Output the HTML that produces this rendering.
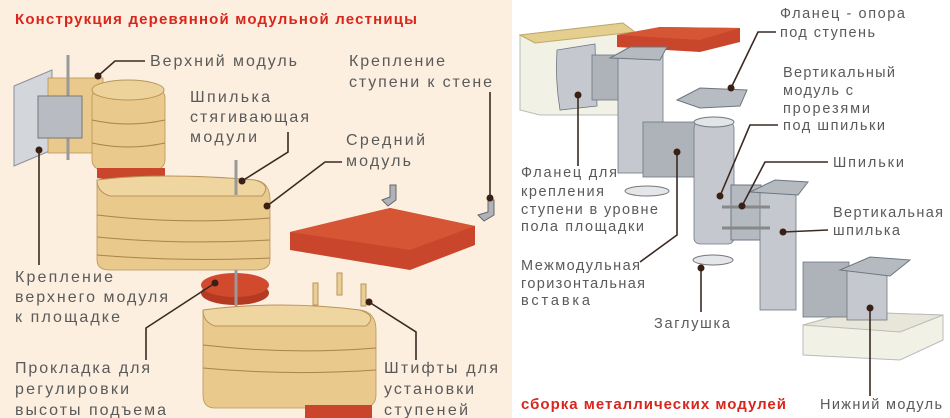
<!DOCTYPE html>
<html><head><meta charset="utf-8"><style>
html,body{margin:0;padding:0;}
body{width:950px;height:418px;overflow:hidden;background:#fff;}
svg{display:block;}
text{font-family:"Liberation Sans","DejaVu Sans",sans-serif;}
.l{font-size:16px;fill:#5a5a5a;}
.r{font-size:14.5px;fill:#5a5a5a;}
.c{stroke:#3a2a22;stroke-width:1.6;fill:none;}
.d{fill:#3a1f14;}
.w{fill:#e9c98c;stroke:#b8955a;stroke-width:0.8;}
.wl{stroke:#a9844c;stroke-width:1;fill:none;}
.m{fill:#c5c9cf;stroke:#6f7680;stroke-width:0.8;}
.m2{fill:#aeb3ba;stroke:#6f7680;stroke-width:0.8;}
</style></head><body>
<svg width="950" height="418" viewBox="0 0 950 418" xmlns="http://www.w3.org/2000/svg">
<rect x="0" y="0" width="512" height="418" fill="#fcefdf"/>
<rect x="512" y="0" width="438" height="418" fill="#ffffff"/>

<text x="15" y="24" font-size="15" font-weight="bold" fill="#d9261c" textLength="402" lengthAdjust="spacing">Конструкция деревянной модульной лестницы</text>

<polygon points="14,86 52,70 52,150 14,166" fill="#d3d6da" stroke="#8a9099"/>
<rect x="48" y="78" width="55" height="75" class="w"/>
<line x1="68" y1="55" x2="68" y2="160" stroke="#999" stroke-width="3"/>
<rect x="38" y="96" width="44" height="42" fill="#b8bcc2" stroke="#777"/>
<rect x="92" y="88" width="73" height="82" rx="10" class="w"/>
<ellipse cx="128" cy="90" rx="36" ry="10" fill="#edd29a" stroke="#b8955a"/>
<path class="wl" d="M92,120 Q128,128 165,120 M92,143 Q128,151 165,143"/>
<path d="M97,168 L165,168 L165,178 Q130,184 97,178 Z" fill="#c9452b"/>
<path d="M97,180 L255,180 Q270,182 270,200 L270,260 Q270,270 255,270 L110,270 Q97,270 97,260 Z" class="w"/>
<path d="M97,180 Q160,172 255,180 Q272,185 262,196 L110,196 Q97,192 97,180" fill="#efd6a0" stroke="#b8955a"/>
<path class="wl" d="M97,215 Q180,225 270,218 M97,237 Q180,245 270,240 M97,255 Q180,262 270,258"/>
<line x1="236" y1="160" x2="236" y2="195" stroke="#999" stroke-width="3"/>
<ellipse cx="235" cy="293" rx="34" ry="12" fill="#b53a22"/>
<ellipse cx="235" cy="285" rx="34" ry="12" fill="#d14a2e"/>
<line x1="236" y1="270" x2="236" y2="310" stroke="#999" stroke-width="3"/>
<path d="M203,310 L360,310 Q376,312 376,330 L376,395 Q376,408 360,408 L215,408 Q203,408 203,395 Z" class="w"/>
<path d="M203,310 Q280,300 360,310 Q378,316 366,326 L215,326 Q203,322 203,310" fill="#efd6a0" stroke="#b8955a"/>
<path class="wl" d="M203,345 Q290,355 376,348 M203,368 Q290,376 376,370"/>
<path d="M305,405 L372,405 L372,418 L305,418 Z" fill="#c9452b"/>
<rect x="313" y="283" width="5" height="22" fill="#e8cf96" stroke="#b8955a"/>
<rect x="337" y="273" width="5" height="22" fill="#e8cf96" stroke="#b8955a"/>
<rect x="361" y="284" width="5" height="22" fill="#e8cf96" stroke="#b8955a"/>
<polygon points="290,232 390,208 475,226 475,245 410,270 290,250" fill="#c9452b"/>
<polygon points="290,232 390,208 475,226 410,250" fill="#d55535"/>
<path d="M382,200 L390,197 L390,185 L396,185 L396,200 L388,206 Z" fill="#aeb3ba" stroke="#666"/>
<path d="M478,215 L488,212 L488,200 L494,200 L494,215 L484,221 Z" fill="#aeb3ba" stroke="#666"/>

<text class="l" x="150" y="66" textLength="147" lengthAdjust="spacing">Верхний модуль</text>
<text class="l" x="349" y="66" textLength="96" lengthAdjust="spacing">Крепление</text>
<text class="l" x="349" y="87" textLength="143" lengthAdjust="spacing">ступени к стене</text>
<text class="l" x="190" y="102" textLength="80" lengthAdjust="spacing">Шпилька</text>
<text class="l" x="190" y="122" textLength="119" lengthAdjust="spacing">стягивающая</text>
<text class="l" x="190" y="142" textLength="67" lengthAdjust="spacing">модули</text>
<text class="l" x="346" y="145" textLength="79" lengthAdjust="spacing">Средний</text>
<text class="l" x="346" y="166" textLength="65" lengthAdjust="spacing">модуль</text>
<text class="l" x="15" y="282" textLength="98" lengthAdjust="spacing">Крепление</text>
<text class="l" x="15" y="302" textLength="153" lengthAdjust="spacing">верхнего модуля</text>
<text class="l" x="15" y="322" textLength="105" lengthAdjust="spacing">к площадке</text>
<text class="l" x="15" y="373" textLength="135" lengthAdjust="spacing">Прокладка для</text>
<text class="l" x="15" y="394" textLength="114" lengthAdjust="spacing">регулировки</text>
<text class="l" x="15" y="415" textLength="151" lengthAdjust="spacing">высоты подъема</text>
<text class="l" x="384" y="373" textLength="114" lengthAdjust="spacing">Штифты для</text>
<text class="l" x="384" y="394" textLength="90" lengthAdjust="spacing">установки</text>
<text class="l" x="384" y="415" textLength="84" lengthAdjust="spacing">ступеней</text>

<path class="c" d="M145,61 L115,61 L98,76"/><circle class="d" cx="98" cy="76" r="3.5"/>
<path class="c" d="M490,92 L490,198"/><circle class="d" cx="490" cy="198" r="3.5"/>
<path class="c" d="M288,132 L288,152 L242,181"/><circle class="d" cx="242" cy="181" r="3.5"/>
<path class="c" d="M342,162 L325,162 L267,206"/><circle class="d" cx="267" cy="206" r="3.5"/>
<path class="c" d="M39,150 L39,265"/><circle class="d" cx="39" cy="150" r="3.5"/>
<path class="c" d="M146,360 L146,328 L215,283"/><circle class="d" cx="215" cy="283" r="3.5"/>
<path class="c" d="M416,360 L416,332 L369,302"/><circle class="d" cx="369" cy="302" r="3.5"/>

<!-- RIGHT -->
<polygon points="520,35 623,23 635,38 635,115 540,115 520,110" fill="#f2f1e6" stroke="#bbb"/>
<polygon points="520,35 623,23 635,32 535,43" fill="#e4cf8e" stroke="#bfa86a"/>
<polygon points="617,35 660,27 740,28 740,42 700,52 617,47" fill="#c9452b"/>
<polygon points="617,35 660,27 740,28 700,40" fill="#d55535"/>
<path d="M557,50 L595,44 L597,106 L560,110 Q555,80 557,50 Z" class="m"/>
<rect x="592" y="55" width="30" height="45" class="m2"/>
<rect x="618" y="55" width="45" height="118" class="m"/>
<polygon points="610,58 630,47 667,47 660,60" fill="#b5bac1" stroke="#6f7680"/>
<polygon points="677,100 700,88 747,90 740,106 700,108" fill="#b7bcc3" stroke="#6f7680"/>
<rect x="643" y="122" width="54" height="55" class="m2"/>
<rect x="694" y="122" width="40" height="122" rx="6" class="m"/>
<ellipse cx="714" cy="122" rx="20" ry="5" fill="#e2e5e8" stroke="#6f7680"/>
<rect x="731" y="185" width="30" height="55" fill="#b5bac1" stroke="#6f7680"/>
<rect x="760" y="192" width="36" height="118" class="m"/>
<polygon points="750,192 775,180 808,182 798,195" fill="#b5bac1" stroke="#6f7680"/>
<line x1="722" y1="207" x2="770" y2="207" stroke="#888" stroke-width="3"/>
<line x1="722" y1="228" x2="770" y2="228" stroke="#888" stroke-width="3"/>
<ellipse cx="647" cy="191" rx="22" ry="5" fill="#e4e6e9" stroke="#777"/>
<ellipse cx="713" cy="260" rx="20" ry="5" fill="#e4e6e9" stroke="#777"/>
<polygon points="803,325 850,312 943,315 943,340 900,360 803,355" fill="#f2f1e6" stroke="#bbb"/>
<polygon points="803,325 850,312 943,315 900,332" fill="#e8e6d8" stroke="#bbb"/>
<rect x="803" y="262" width="46" height="55" class="m2"/>
<rect x="847" y="270" width="40" height="50" class="m"/>
<polygon points="840,270 870,257 910,260 890,276" fill="#b5bac1" stroke="#6f7680"/>

<text class="r" x="780" y="18" textLength="125" lengthAdjust="spacing">Фланец - опора</text>
<text class="r" x="780" y="37" textLength="95" lengthAdjust="spacing">под ступень</text>
<text class="r" x="783" y="77" textLength="112" lengthAdjust="spacing">Вертикальный</text>
<text class="r" x="783" y="95" textLength="70" lengthAdjust="spacing">модуль с</text>
<text class="r" x="783" y="113" textLength="87" lengthAdjust="spacing">прорезями</text>
<text class="r" x="783" y="130" textLength="102" lengthAdjust="spacing">под шпильки</text>
<text class="r" x="833" y="167" textLength="71" lengthAdjust="spacing">Шпильки</text>
<text class="r" x="833" y="217" textLength="110" lengthAdjust="spacing">Вертикальная</text>
<text class="r" x="833" y="235" textLength="67" lengthAdjust="spacing">шпилька</text>
<text class="r" x="521" y="177" textLength="96" lengthAdjust="spacing">Фланец для</text>
<text class="r" x="521" y="196" textLength="83" lengthAdjust="spacing">крепления</text>
<text class="r" x="521" y="214" textLength="137" lengthAdjust="spacing">ступени в уровне</text>
<text class="r" x="521" y="231" textLength="123" lengthAdjust="spacing">пола площадки</text>
<text class="r" x="521" y="270" textLength="119" lengthAdjust="spacing">Межмодульная</text>
<text class="r" x="521" y="288" textLength="124" lengthAdjust="spacing">горизонтальная</text>
<text class="r" x="521" y="305" textLength="69" lengthAdjust="spacing">вставка</text>
<text class="r" x="654" y="328" textLength="76" lengthAdjust="spacing">Заглушка</text>
<text class="r" x="820" y="409" textLength="122" lengthAdjust="spacing">Нижний модуль</text>
<text x="521" y="409" font-size="15" font-weight="bold" fill="#d9261c" textLength="265" lengthAdjust="spacing">сборка металлических модулей</text>

<path class="c" d="M776,32 L758,32 L731,88"/><circle class="d" cx="731" cy="88" r="3.5"/>
<path class="c" d="M778,125 L750,125 L720,196"/><circle class="d" cx="720" cy="196" r="3.5"/>
<path class="c" d="M828,162 L765,162 L742,206"/><circle class="d" cx="742" cy="206" r="3.5"/>
<path class="c" d="M828,230 L783,232"/><circle class="d" cx="783" cy="232" r="3.5"/>
<path class="c" d="M578,95 L578,166"/><circle class="d" cx="578" cy="95" r="3.5"/>
<path class="c" d="M640,262 L677,235 L677,152"/><circle class="d" cx="677" cy="152" r="3.5"/>
<path class="c" d="M701,268 L701,312"/><circle class="d" cx="701" cy="268" r="3.5"/>
<path class="c" d="M870,308 L870,396"/><circle class="d" cx="870" cy="308" r="3.5"/>
</svg>
</body></html>
